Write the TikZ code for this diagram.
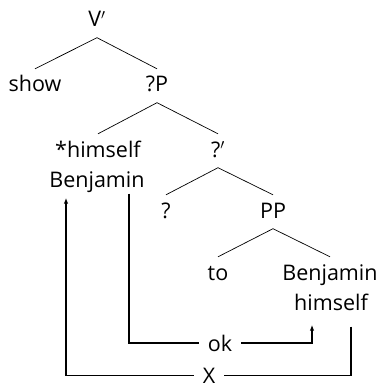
\documentclass[tikz,border=0pt]{standalone}
\usepackage{fontspec}
\setmainfont{Open Sans}
\usetikzlibrary{arrows.meta}

\tikzset{
    lab/.style={anchor=base, inner xsep=2pt, inner ysep=7.5pt, text height=15.5pt, text depth=3pt},
    verdict/.style={inner xsep=9pt, inner ysep=1pt},
    branch/.style={line width=0.7pt},
    link/.style={line width=1.3pt},
}

\begin{document}
\begin{tikzpicture}[x=1pt, y=-1pt, font=\fontsize{21.5}{26}\selectfont, >={Latex[length=6pt, width=4.5pt]}]
    \useasboundingbox (0, 0) rectangle (384, 385);

        % Declare the labels
        \node[lab] at (97, 27) (V) {V$'$};
        \node[lab] at (35, 92) (show) {show};
        \node[lab] at (157, 92) (P) {?P};
        \node[lab] at (98, 157) (himA) {*himself};
        \node[lab] at (97, 187) (benA) {Benjamin};
        \node[lab] at (218, 157) (Pbar) {?$'$};
        \node[lab] at (166, 218) (q) {?};
        \node[lab] at (273, 218) (PP) {PP};
        \node[lab] at (218, 280) (to) {to};
        \node[lab] at (330, 280) (benB) {Benjamin};
        \node[lab] at (331, 310) (himB) {himself};

        % Declare the judgements
        \node[verdict] at (220, 343) (ok) {ok};
        \node[verdict] at (209, 375.5) (X) {X};

        % Declare branches
        \draw[branch] (V.south) -- (show.north);
        \draw[branch] (V.south) -- (P.north);
        \draw[branch] (P.south) -- (himA.north);
        \draw[branch] (P.south) -- (Pbar.north);
        \draw[branch] (Pbar.south) -- (q.north);
        \draw[branch] (Pbar.south) -- (PP.north);
        \draw[branch] (PP.south) -- (to.north);
        \draw[branch] (PP.south) -- (benB.north);

        % Declare binding links
        \draw[link] ([xshift=32pt, yshift=4pt]benA.south) |- (ok.west);
        \draw[link, ->] (ok.east) -| ([xshift=-19pt, yshift=-4pt]himB.south);
        \draw[link] ([xshift=20pt, yshift=-6pt]himB.south) |- (X.east);
        \draw[link, ->] (X.west) -| ([xshift=-31pt]benA.south);

\end{tikzpicture}
\end{document}
